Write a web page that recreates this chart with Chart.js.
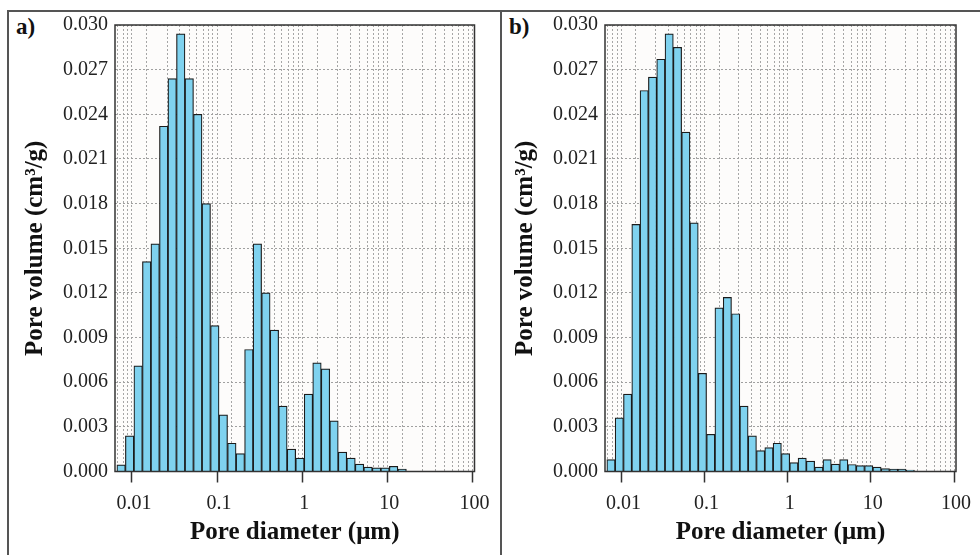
<!DOCTYPE html>
<html>
<head>
<meta charset="utf-8">
<script src="https://cdn.jsdelivr.net/npm/chart.js@4.4.0/dist/chart.umd.min.js"></script>
<style>
body{margin:0;background:#fff;width:980px;height:555px;overflow:hidden;position:relative;font-family:"Liberation Serif",serif}
.fr{position:absolute;background:#555}
canvas{position:absolute;top:0}
.lbl{position:absolute;top:13px;font-weight:bold;font-size:23px;color:#111;line-height:28px}
</style>
</head>
<body>
<div class="fr" style="left:7px;top:10px;width:973px;height:1.5px"></div>
<div class="fr" style="left:7px;top:10px;width:1.5px;height:545px"></div>
<div class="fr" style="left:500px;top:10px;width:1.5px;height:545px"></div>
<div class="lbl" style="left:16px">a)</div>
<div class="lbl" style="left:509px">b)</div>
<canvas id="chartA" width="500" height="555" style="left:0"></canvas>
<canvas id="chartB" width="490" height="555" style="left:490px"></canvas>
<script>
// bin centres (um), 10 bins per decade
const diameters=[0.007079,0.008913,0.01122,0.01413,0.01778,0.02239,0.02818,0.03548,0.04467,0.05623,
0.07079,0.08913,0.1122,0.1413,0.1778,0.2239,0.2818,0.3548,0.4467,0.5623,
0.7079,0.8913,1.122,1.413,1.778,2.239,2.818,3.548,4.467,5.623,
7.079,8.913,11.22,14.13,17.78,22.39,28.18];

const volumeA=[0.00045,0.0024,0.0071,0.0141,0.0153,0.0232,0.0264,0.0294,0.0264,0.0240,
0.0180,0.0098,0.0038,0.0019,0.0012,0.0082,0.0153,0.0120,0.0095,0.0044,
0.0015,0.0009,0.0052,0.0073,0.0069,0.0034,0.0013,0.0009,0.0005,0.0003,
0.00025,0.00025,0.00035,0.00017];

const volumeB=[0.0008,0.0036,0.0052,0.0166,0.0256,0.0265,0.0277,0.0294,0.0285,0.0228,
0.0167,0.0066,0.0025,0.0110,0.0117,0.0106,0.0044,0.0024,0.0014,0.0016,
0.0019,0.0012,0.0006,0.0009,0.0007,0.0003,0.0008,0.0005,0.0008,0.00047,
0.0004,0.0004,0.0003,0.0002,0.00017,0.00017,0.0001];

const xTickValues=[0.01,0.1,1,10,100];
const xTickLabels=['0.01','0.1','1','10','100'];
const yTickLabels=['0.000','0.003','0.006','0.009','0.012','0.015','0.018','0.021','0.024','0.027','0.030'];

const serif='Liberation Serif';
const xMin=0.006,xMax=100;

function majorIdx(v){
return xTickValues.findIndex(t=>Math.abs(t-v)/t<1e-6);
}

const frame={
id:'frame',
beforeDraw(c){
const a=c.chartArea,x=c.ctx;
x.save();x.fillStyle='#fdfcfb';x.fillRect(a.left,a.top,a.width,a.height);x.restore();
},
afterDraw(c){
const a=c.chartArea,x=c.ctx;
x.save();x.strokeStyle='#333';x.lineWidth=1.5;x.strokeRect(a.left,a.top,a.width,a.height);x.restore();
}
};

function makeChart(id,values,padRight){
return new Chart(document.getElementById(id),{
type:'bar',
data:{datasets:[{
xAxisID:'xb',
data:values.map((v,i)=>({x:diameters[i],y:v})),
backgroundColor:'#7fd2ef',
borderColor:'#1b1b1b',
borderWidth:1.2,
barPercentage:1,
categoryPercentage:1
}]},
options:{
responsive:false,
animation:false,
layout:{padding:{left:0,right:padRight,top:25,bottom:0}},
plugins:{legend:{display:false},tooltip:{enabled:false}},
scales:{
// hidden twin axis for the bars, without ticks so bar width follows the bins
xb:{
type:'logarithmic',axis:'x',min:xMin,max:xMax,offset:false,display:false,
afterBuildTicks:s=>{s.ticks=[];}
},
x:{
type:'logarithmic',min:xMin,max:xMax,offset:false,
afterBuildTicks:s=>{
// drop the 1.5 x 10^n ticks chart.js adds
s.ticks=s.ticks.filter(t=>{
const m=t.value/Math.pow(10,Math.floor(Math.log10(t.value)+1e-9));
return Math.abs(m-1.5)>0.01;
});
},
afterFit:s=>{s.height=83.5;},
ticks:{autoSkip:false,maxRotation:0,padding:9,color:'#222',font:{family:serif,size:20},
callback:v=>{const i=majorIdx(v);return i<0?'':xTickLabels[i];}},
grid:{color:'#a6a6a6',lineWidth:1,tickLength:11,tickWidth:1.5,tickBorderDash:[],
tickColor:c=>(c.tick&&majorIdx(c.tick.value)>=0)?'#333':'rgba(0,0,0,0)'},
border:{display:false,dash:[2,2]},
title:{display:true,text:'Pore diameter (μm)',color:'#111',
font:{family:serif,size:25,weight:'bold'},padding:{top:0,bottom:7}}
},
y:{
min:0,max:0.03,
afterFit:s=>{s.width=115;},
ticks:{stepSize:0.003,padding:7,color:'#222',font:{family:serif,size:20},
callback:(v,i)=>yTickLabels[i]},
grid:{color:'#a0a0a0',drawTicks:false},
border:{display:false,dash:[2,2]},
title:{display:true,text:'Pore volume (cm³/g)',color:'#111',
font:{family:serif,size:25,weight:'bold'},padding:{top:21,bottom:0}}
}
}
},
plugins:[frame]
});
}

makeChart('chartA',volumeA,25.5);
makeChart('chartB',volumeB,15);
</script>
</body>
</html>
